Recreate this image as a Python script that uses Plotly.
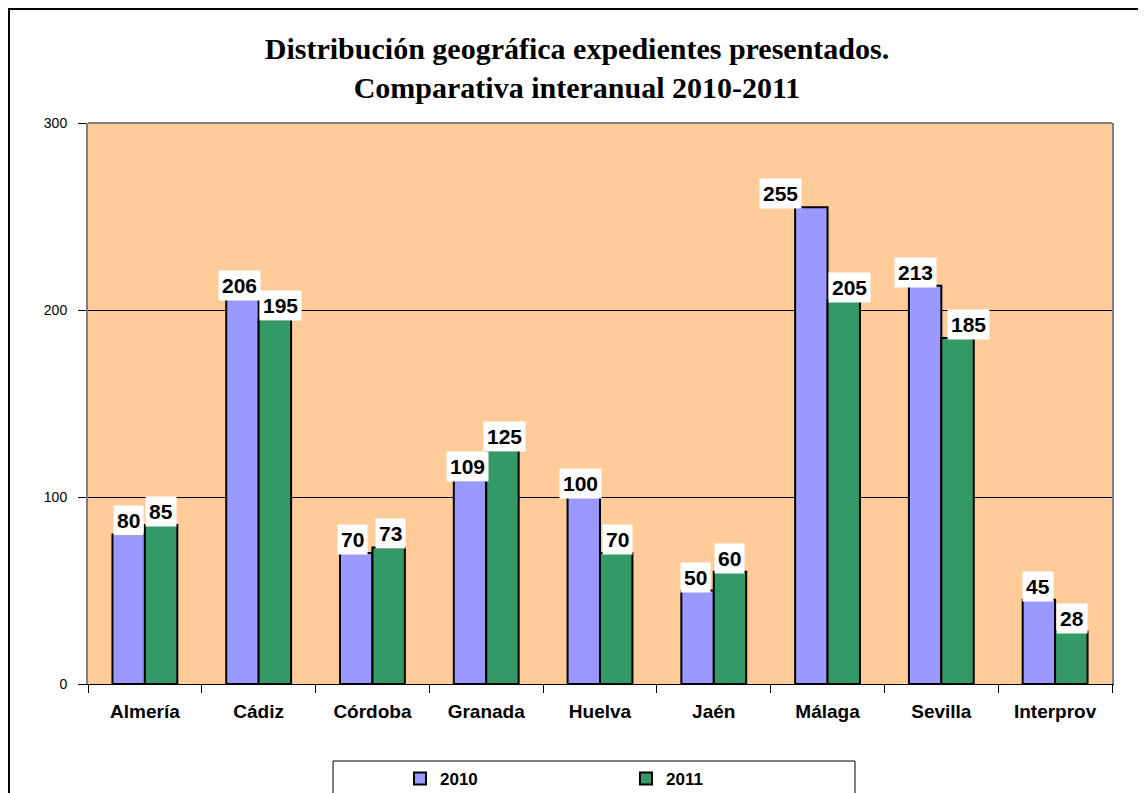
import plotly.graph_objects as go

categories = ["Almería", "Cádiz", "Córdoba", "Granada", "Huelva", "Jaén", "Málaga", "Sevilla", "Interprov"]
values_2010 = [80, 206, 70, 109, 100, 50, 255, 213, 45]
values_2011 = [85, 195, 73, 125, 70, 60, 205, 185, 28]
series_names = ["2010", "2011"]
y_ticks = [0, 100, 200, 300]

# label placement tweaks (pixels), as in the reference
dx_2010 = [0, -3, -4, -3, -3, -2, -31, -10, -1]
dx_2011 = [0, 6, 2, 2, 1, 0, 6, 11, 1]

C2010 = "#9999FF"
C2011 = "#339966"

OFF = 8  # page body margin
W, H = 1146 - OFF, 793 - OFF
L, T = 88 - OFF, 123 - OFF
pw, ph = 1024, 561
R = W - L - pw
B = H - T - ph

def px_x(p):  # screen px -> paper x
    return (p - 88) / pw

def px_y(p):  # screen px -> paper y
    return (684 - p) / ph

fig = go.Figure()
fig.add_trace(go.Bar(x=categories, y=values_2010, name=series_names[0],
                     marker=dict(color=C2010, line=dict(color="black", width=2))))
fig.add_trace(go.Bar(x=categories, y=values_2011, name=series_names[1],
                     marker=dict(color=C2011, line=dict(color="black", width=2))))

bar_w = pw / len(categories) * 0.57 / 2
annotations = []
for vals, dxs, sign in ((values_2010, dx_2010, -1), (values_2011, dx_2011, 1)):
    for c, v, d in zip(categories, vals, dxs):
        annotations.append(dict(
            x=c, y=v, xref="x", yref="y", text=f"<b>{v}</b>", showarrow=False,
            xanchor="center", yanchor="bottom", xshift=sign * bar_w / 2 + d, yshift=-2,
            bgcolor="white", borderpad=3,
            font=dict(family="Liberation Sans, Arial", size=21, color="black")))

fig.update_layout(
    width=W, height=H,
    margin=dict(l=L, r=R, t=T, b=B, autoexpand=False),
    paper_bgcolor="white", plot_bgcolor="#FFCC99",
    barmode="group", bargap=0.43, bargroupgap=0,
    title=dict(text="<b>Distribución geográfica expedientes presentados.<br>Comparativa interanual 2010-2011</b>",
               x=0.5, xanchor="center", y=1 - (59 - OFF) / H, yanchor="middle",
               font=dict(family="Liberation Serif, Times New Roman", size=30, color="black")),
    showlegend=True,
    legend=dict(orientation="h", x=px_x(400), y=px_y(761), xanchor="left", yanchor="top",
                bgcolor="rgba(0,0,0,0)", borderwidth=0, entrywidth=181, entrywidthmode="pixels",
                font=dict(family="Liberation Sans, Arial", size=17, color="black", weight="bold"),
                itemsizing="constant"),
    annotations=annotations,
    font=dict(family="Liberation Sans, Arial", color="black"),
)

fig.update_xaxes(
    showline=True, linecolor="black", linewidth=1,
    ticks="outside", tickson="boundaries", ticklen=8, tickcolor="black",
    ticklabelstandoff=10,
    tickfont=dict(family="Liberation Sans, Arial", size=19, color="black", weight="bold"),
    showgrid=False)
fig.update_yaxes(
    range=[0, 300], tickvals=y_ticks,
    showline=True, linecolor="#808080", linewidth=2, mirror=True,
    ticks="outside", ticklen=8, tickcolor="black",
    ticklabelstandoff=8,
    tickfont=dict(family="Liberation Sans, Arial", size=14, color="black"),
    showgrid=True, gridcolor="black", gridwidth=1, zeroline=False)

shapes = [
    # top border of plot area (gray)
    dict(type="line", xref="paper", yref="paper", x0=0, x1=1, y0=1, y1=1,
         line=dict(color="#808080", width=2), layer="above"),
    # outer chart frame
    dict(type="rect", xref="paper", yref="paper", x0=px_x(9), x1=px_x(1170),
         y0=px_y(9), y1=px_y(830), line=dict(color="black", width=2), layer="below"),
    # legend box
    dict(type="rect", xref="paper", yref="paper", x0=px_x(333), x1=px_x(855),
         y0=px_y(761), y1=px_y(830), line=dict(color="black", width=1), layer="below"),
]
fig.update_layout(shapes=shapes)

fig.write_html("out.html")
